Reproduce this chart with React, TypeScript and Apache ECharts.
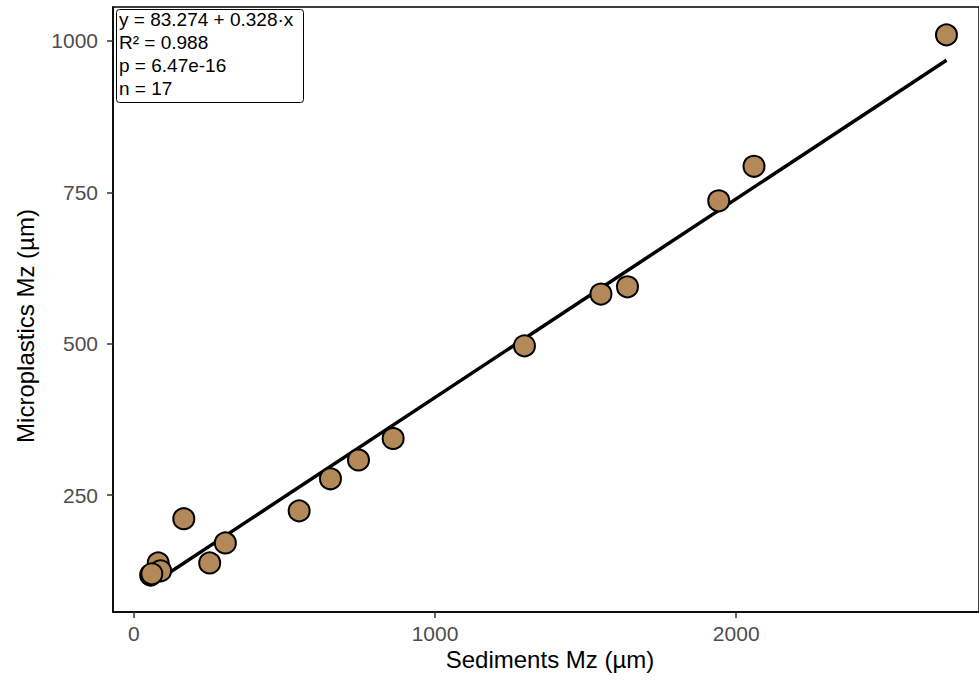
import React, { useEffect, useRef } from "react";
import * as echarts from "echarts";

const sedimentsMz = [2698, 2059, 1942, 1639, 1551, 1297, 861, 746, 653, 549, 304, 166, 252, 81, 89, 56, 60];
const microplasticsMz = [1010, 793, 736, 594, 582, 496.5, 343.5, 308, 277, 224, 171, 211, 138, 138, 125, 118, 120];
const fitX = [56, 2698];
const fitY = [101.6, 968.2];
const xTicks = [0, 1000, 2000];
const yTicks = [250, 500, 750, 1000];
const statLines = ["y = 83.274 + 0.328·x", "R² = 0.988", "p = 6.47e-16", "n = 17"];

const FONT = "'Liberation Sans', Arial, sans-serif";

export default function App() {
  const ref = useRef<HTMLDivElement>(null);
  useEffect(() => {
    if (!ref.current) return;
    const chart = echarts.init(ref.current, null, { renderer: "svg" });
    const points = sedimentsMz.map((x, i) => [x, microplasticsMz[i]]);
    const line = fitX.map((x, i) => [x, fitY[i]]);
    chart.setOption({
      animation: false,
      backgroundColor: "#ffffff",
      grid: {
        left: 113,
        top: 7,
        right: -5,
        bottom: 72,
        show: true,
        borderColor: "#000",
        borderWidth: 1.5,
        backgroundColor: "transparent",
      },
      xAxis: {
        type: "value",
        min: -69,
        max: 2806,
        splitLine: { show: false },
        axisLine: { show: true, onZero: false, lineStyle: { color: "#000", width: 1.5 } },
        axisTick: { show: true, length: 6, customValues: xTicks, lineStyle: { color: "#333", width: 1.5 } },
        axisLabel: {
          customValues: xTicks,
          formatter: (v: number) => String(v),
          color: "#4d4d4d",
          fontSize: 21,
          fontFamily: FONT,
          margin: 11,
        },
      },
      yAxis: {
        type: "value",
        min: 57,
        max: 1056,
        splitLine: { show: false },
        axisLine: { show: true, onZero: false, lineStyle: { color: "#000", width: 1.5 } },
        axisTick: { show: true, length: 6, customValues: yTicks, lineStyle: { color: "#333", width: 1.5 } },
        axisLabel: {
          customValues: yTicks,
          formatter: (v: number) => String(v),
          color: "#4d4d4d",
          fontSize: 21,
          fontFamily: FONT,
          margin: 15,
        },
      },
      series: [
        {
          type: "line",
          data: line,
          showSymbol: false,
          symbol: "none",
          lineStyle: { color: "#000", width: 3.5 },
          z: 2,
        },
        {
          type: "scatter",
          data: points,
          symbolSize: 21,
          itemStyle: { color: "#B4895A", borderColor: "#000", borderWidth: 2, opacity: 1 },
          z: 3,
        },
      ],
      graphic: [
        {
          type: "rect",
          left: 116,
          top: 9,
          shape: { width: 187, height: 93, r: 3 },
          style: { fill: "#fff", stroke: "#000", lineWidth: 1 },
          z: 10,
        },
        ...statLines.map((t, i) => ({
          type: "text",
          left: 119,
          top: 10 + i * 23,
          style: { text: t, fill: "#000", font: `19px ${FONT}` },
          z: 11,
        })),
        {
          type: "text",
          x: 550,
          y: 659,
          style: {
            text: "Sediments Mz (µm)",
            fill: "#000",
            font: `24px ${FONT}`,
            align: "center",
            verticalAlign: "middle",
          },
          z: 11,
        },
        {
          type: "text",
          x: 25,
          y: 326,
          rotation: Math.PI / 2,
          style: {
            text: "Microplastics Mz (µm)",
            fill: "#000",
            font: `24px ${FONT}`,
            align: "center",
            verticalAlign: "middle",
          },
          z: 11,
        },
      ],
    });
    return () => chart.dispose();
  }, []);
  return (
    <div
      ref={ref}
      style={{ position: "fixed", left: 0, top: 0, width: 979, height: 684, background: "#fff" }}
    />
  );
}
